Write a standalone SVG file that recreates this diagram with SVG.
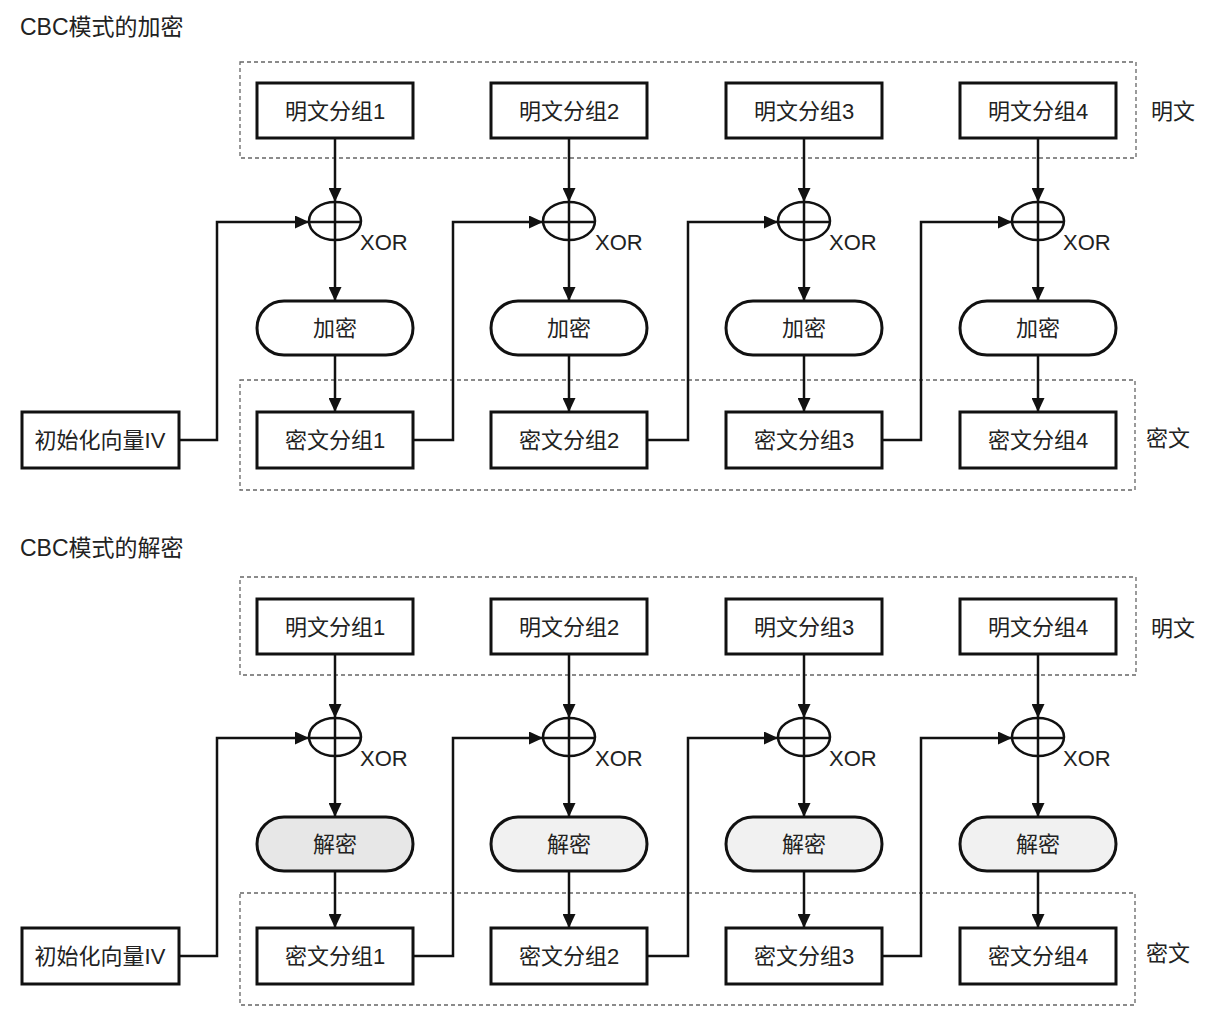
<svg xmlns="http://www.w3.org/2000/svg" width="1211" height="1023" viewBox="0 0 1211 1023">
<style>
text{font-family:"Liberation Sans","Noto Sans CJK SC",sans-serif;font-size:22px;fill:#222}
.t{font-size:23px}
.c{text-anchor:middle}
.box{fill:#fff;stroke:#111;stroke-width:3}
.grp{fill:none;stroke:#666;stroke-width:1.3;stroke-dasharray:4 3}
.xor{fill:#fff;stroke:#111;stroke-width:2.5}
.ln{fill:none;stroke:#111;stroke-width:2.5}
.ar{fill:none;stroke:#111;stroke-width:2.5;marker-end:url(#ah)}
.enc{fill:#fff;stroke:#111;stroke-width:3}
.dec{fill:#f1f1f1;stroke:#111;stroke-width:3}
</style>
<defs>
<marker id="ah" viewBox="0 0 14 13" refX="14" refY="6.5" markerWidth="14" markerHeight="13" markerUnits="userSpaceOnUse" orient="auto"><path d="M0,0L14,6.5L0,13z" fill="#111"/></marker>
</defs>
<rect width="1211" height="1023" fill="#fff"/>

<text x="20" y="35" class="t">CBC模式的加密</text>
<text x="20" y="556" class="t">CBC模式的解密</text>

<g id="groups">
<rect class="grp" x="240" y="62" width="896" height="96"/>
<rect class="grp" x="240" y="380" width="895" height="110"/>
<rect class="grp" x="240" y="577" width="896" height="98"/>
<rect class="grp" x="240" y="893" width="895" height="112"/>
<text x="1173" y="119" class="c">明文</text>
<text x="1168" y="446" class="c">密文</text>
<text x="1173" y="636" class="c">明文</text>
<text x="1168" y="961" class="c">密文</text>
</g>

<g id="connectors">
<!-- encryption -->
<line class="ar" x1="335" y1="138" x2="335" y2="202"/>
<line class="ar" x1="569" y1="138" x2="569" y2="202"/>
<line class="ar" x1="804" y1="138" x2="804" y2="202"/>
<line class="ar" x1="1038" y1="138" x2="1038" y2="202"/>
<line class="ar" x1="335" y1="240" x2="335" y2="301"/>
<line class="ar" x1="569" y1="240" x2="569" y2="301"/>
<line class="ar" x1="804" y1="240" x2="804" y2="301"/>
<line class="ar" x1="1038" y1="240" x2="1038" y2="301"/>
<line class="ar" x1="335" y1="355" x2="335" y2="412"/>
<line class="ar" x1="569" y1="355" x2="569" y2="412"/>
<line class="ar" x1="804" y1="355" x2="804" y2="412"/>
<line class="ar" x1="1038" y1="355" x2="1038" y2="412"/>
<path class="ar" d="M179,440H217V222H309"/>
<path class="ar" d="M413,440H453V222H543"/>
<path class="ar" d="M647,440H688V222H778"/>
<path class="ar" d="M882,440H921V222H1012"/>
<!-- decryption -->
<line class="ar" x1="335" y1="654" x2="335" y2="718"/>
<line class="ar" x1="569" y1="654" x2="569" y2="718"/>
<line class="ar" x1="804" y1="654" x2="804" y2="718"/>
<line class="ar" x1="1038" y1="654" x2="1038" y2="718"/>
<line class="ar" x1="335" y1="756" x2="335" y2="817"/>
<line class="ar" x1="569" y1="756" x2="569" y2="817"/>
<line class="ar" x1="804" y1="756" x2="804" y2="817"/>
<line class="ar" x1="1038" y1="756" x2="1038" y2="817"/>
<line class="ar" x1="335" y1="871" x2="335" y2="928"/>
<line class="ar" x1="569" y1="871" x2="569" y2="928"/>
<line class="ar" x1="804" y1="871" x2="804" y2="928"/>
<line class="ar" x1="1038" y1="871" x2="1038" y2="928"/>
<path class="ar" d="M179,956H217V738H309"/>
<path class="ar" d="M413,956H453V738H543"/>
<path class="ar" d="M647,956H688V738H778"/>
<path class="ar" d="M882,956H921V738H1012"/>
</g>

<!-- encryption nodes -->
<g id="e-iv"><rect class="box" x="22" y="412" width="157" height="56"/><text x="100" y="448" class="c">初始化向量IV</text></g>
<g id="e-p1"><rect class="box" x="257" y="83" width="156" height="55"/><text x="335" y="119" class="c">明文分组1</text></g>
<g id="e-p2"><rect class="box" x="491" y="83" width="156" height="55"/><text x="569" y="119" class="c">明文分组2</text></g>
<g id="e-p3"><rect class="box" x="726" y="83" width="156" height="55"/><text x="804" y="119" class="c">明文分组3</text></g>
<g id="e-p4"><rect class="box" x="960" y="83" width="156" height="55"/><text x="1038" y="119" class="c">明文分组4</text></g>
<g id="e-x1"><ellipse class="xor" cx="335" cy="221" rx="26" ry="19"/><path class="ln" d="M309,222H361M335,202V240"/><text x="360" y="250">XOR</text></g>
<g id="e-x2"><ellipse class="xor" cx="569" cy="221" rx="26" ry="19"/><path class="ln" d="M543,222H595M569,202V240"/><text x="595" y="250">XOR</text></g>
<g id="e-x3"><ellipse class="xor" cx="804" cy="221" rx="26" ry="19"/><path class="ln" d="M778,222H830M804,202V240"/><text x="829" y="250">XOR</text></g>
<g id="e-x4"><ellipse class="xor" cx="1038" cy="221" rx="26" ry="19"/><path class="ln" d="M1012,222H1064M1038,202V240"/><text x="1063" y="250">XOR</text></g>
<g id="e-e1"><rect class="enc" x="257" y="301" width="156" height="54" rx="27"/><text x="335" y="336" class="c">加密</text></g>
<g id="e-e2"><rect class="enc" x="491" y="301" width="156" height="54" rx="27"/><text x="569" y="336" class="c">加密</text></g>
<g id="e-e3"><rect class="enc" x="726" y="301" width="156" height="54" rx="27"/><text x="804" y="336" class="c">加密</text></g>
<g id="e-e4"><rect class="enc" x="960" y="301" width="156" height="54" rx="27"/><text x="1038" y="336" class="c">加密</text></g>
<g id="e-c1"><rect class="box" x="257" y="412" width="156" height="56"/><text x="335" y="448" class="c">密文分组1</text></g>
<g id="e-c2"><rect class="box" x="491" y="412" width="156" height="56"/><text x="569" y="448" class="c">密文分组2</text></g>
<g id="e-c3"><rect class="box" x="726" y="412" width="156" height="56"/><text x="804" y="448" class="c">密文分组3</text></g>
<g id="e-c4"><rect class="box" x="960" y="412" width="156" height="56"/><text x="1038" y="448" class="c">密文分组4</text></g>

<!-- decryption nodes -->
<g id="d-iv"><rect class="box" x="22" y="928" width="157" height="56"/><text x="100" y="964" class="c">初始化向量IV</text></g>
<g id="d-p1"><rect class="box" x="257" y="599" width="156" height="55"/><text x="335" y="635" class="c">明文分组1</text></g>
<g id="d-p2"><rect class="box" x="491" y="599" width="156" height="55"/><text x="569" y="635" class="c">明文分组2</text></g>
<g id="d-p3"><rect class="box" x="726" y="599" width="156" height="55"/><text x="804" y="635" class="c">明文分组3</text></g>
<g id="d-p4"><rect class="box" x="960" y="599" width="156" height="55"/><text x="1038" y="635" class="c">明文分组4</text></g>
<g id="d-x1"><ellipse class="xor" cx="335" cy="737" rx="26" ry="19"/><path class="ln" d="M309,738H361M335,718V756"/><text x="360" y="766">XOR</text></g>
<g id="d-x2"><ellipse class="xor" cx="569" cy="737" rx="26" ry="19"/><path class="ln" d="M543,738H595M569,718V756"/><text x="595" y="766">XOR</text></g>
<g id="d-x3"><ellipse class="xor" cx="804" cy="737" rx="26" ry="19"/><path class="ln" d="M778,738H830M804,718V756"/><text x="829" y="766">XOR</text></g>
<g id="d-x4"><ellipse class="xor" cx="1038" cy="737" rx="26" ry="19"/><path class="ln" d="M1012,738H1064M1038,718V756"/><text x="1063" y="766">XOR</text></g>
<g id="d-d1"><rect class="dec" style="fill:#e7e7e7" x="257" y="817" width="156" height="54" rx="27"/><text x="335" y="852" class="c">解密</text></g>
<g id="d-d2"><rect class="dec" x="491" y="817" width="156" height="54" rx="27"/><text x="569" y="852" class="c">解密</text></g>
<g id="d-d3"><rect class="dec" x="726" y="817" width="156" height="54" rx="27"/><text x="804" y="852" class="c">解密</text></g>
<g id="d-d4"><rect class="dec" x="960" y="817" width="156" height="54" rx="27"/><text x="1038" y="852" class="c">解密</text></g>
<g id="d-c1"><rect class="box" x="257" y="928" width="156" height="56"/><text x="335" y="964" class="c">密文分组1</text></g>
<g id="d-c2"><rect class="box" x="491" y="928" width="156" height="56"/><text x="569" y="964" class="c">密文分组2</text></g>
<g id="d-c3"><rect class="box" x="726" y="928" width="156" height="56"/><text x="804" y="964" class="c">密文分组3</text></g>
<g id="d-c4"><rect class="box" x="960" y="928" width="156" height="56"/><text x="1038" y="964" class="c">密文分组4</text></g>
</svg>
